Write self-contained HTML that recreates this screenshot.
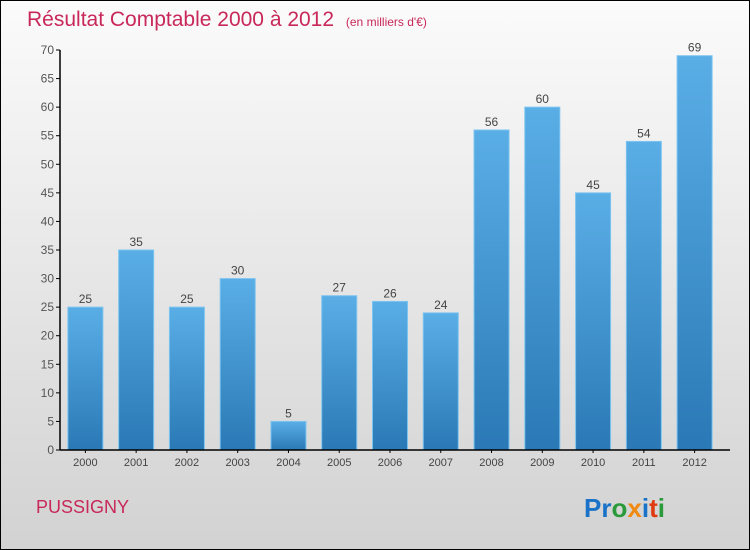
<!DOCTYPE html>
<html><head><meta charset="utf-8"><style>
body{margin:0}
#c{position:relative;width:748px;height:548px;border:1px solid #000;background:linear-gradient(#fbfbfb,#d2d2d2);font-family:"Liberation Sans",sans-serif;overflow:hidden}
</style></head><body>
<div id="c">
<svg id="s" width="748" height="548" style="position:absolute;left:0;top:0">
<defs><linearGradient id="g" x1="0" y1="0" x2="0" y2="1"><stop offset="0" stop-color="#5aaee6"/><stop offset="1" stop-color="#2a79b6"/></linearGradient></defs>
<text x="26" y="25" font-size="21" fill="#c8285a">Résultat Comptable 2000 à 2012 <tspan font-size="12" dx="6">(en milliers d'€)</tspan></text>
<text x="35" y="512" font-size="18" fill="#c8285a">PUSSIGNY</text>
<text x="583" y="516" font-size="26" font-weight="bold"><tspan fill="#1a73c8">Pr</tspan><tspan fill="#2a9a3a">o</tspan><tspan fill="#f08a10">x</tspan><tspan fill="#1a73c8">i</tspan><tspan fill="#e03a10">t</tspan><tspan fill="#2a9a3a">i</tspan></text>
<g id="plot"></g>
</svg>
</div>
<script>
const categories=["2000","2001","2002","2003","2004","2005","2006","2007","2008","2009","2010","2011","2012"];
const values=[25,35,25,30,5,27,26,24,56,60,45,54,69];
const yTicks=[0,5,10,15,20,25,30,35,40,45,50,55,60,65,70];
const NS="http://www.w3.org/2000/svg";
const g=document.getElementById('plot');
const x0=59,x1=719,y0=449,yTop=49,yMax=70;
const y=v=>y0-(v/yMax)*(y0-yTop);
const slot=(x1-x0)/categories.length;
const xc=i=>x0+slot*(i+0.5);
function el(t,a,txt){const e=document.createElementNS(NS,t);for(const k in a)e.setAttribute(k,a[k]);if(txt!=null)e.textContent=txt;g.appendChild(e);return e;}
yTicks.forEach(t=>{
const l=el('line',{x1:x0-4,x2:x0,y1:y(t),y2:y(t),stroke:'#000'});


const tx=el('text',{x:x0-6,y:y(t)+4,'text-anchor':'end','font-size':12,fill:'#555'},t);


});
values.forEach((v,i)=>{
const r=el('rect',{x:xc(i)-17.5,y:y(v),width:35,height:y0-y(v),fill:'url(#g)',stroke:'#7cc4f0','stroke-width':1});


const vl=el('text',{x:xc(i),y:y(v)-4,'text-anchor':'middle','font-size':12,fill:'#444'},v);


const xl=el('text',{x:xc(i),y:y0+16,'text-anchor':'middle','font-size':11,fill:'#444'},categories[i]);


const xt=el('line',{x1:xc(i),x2:xc(i),y1:y0,y2:y0+3,stroke:'#000'});


});
const ya=el('line',{x1:x0,x2:x0,y1:yTop,y2:y0,stroke:'#000','stroke-width':1.5});


const xa=el('line',{x1:x0,x2:x1+10,y1:y0,y2:y0,stroke:'#000','stroke-width':1.5});


</script>
</body></html>
